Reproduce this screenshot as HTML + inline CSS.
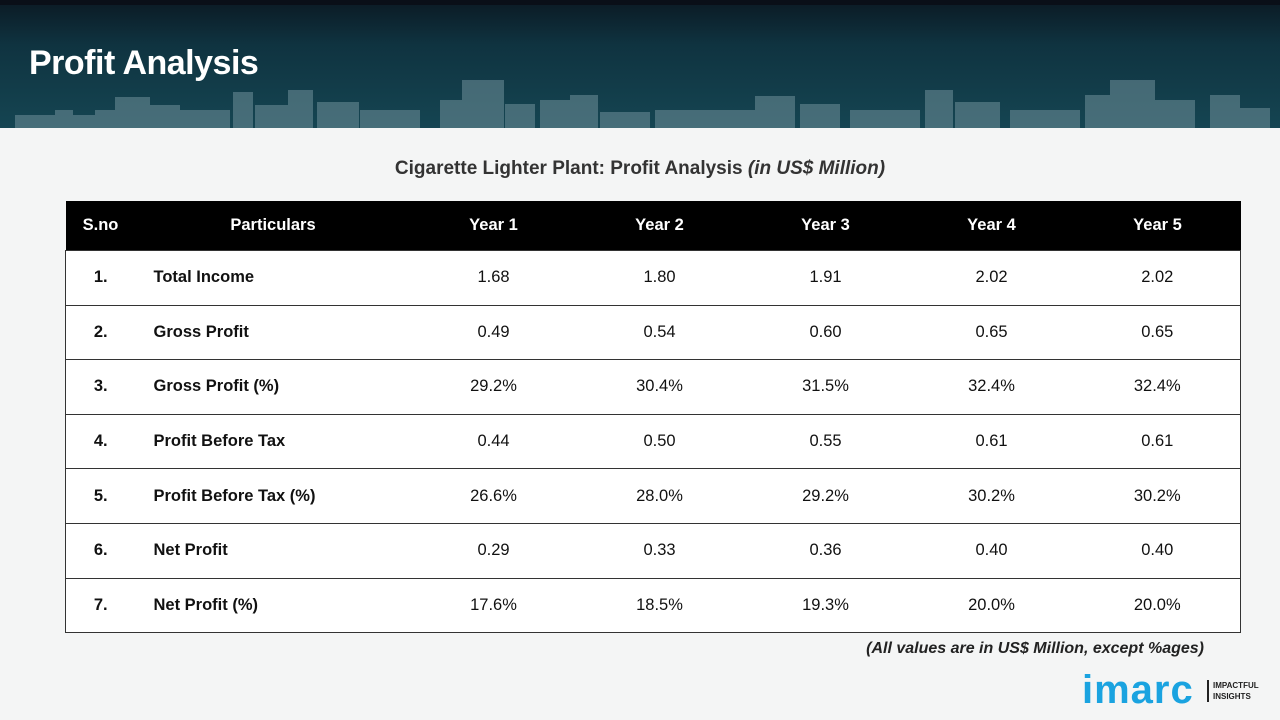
<!DOCTYPE html>
<html><head><meta charset="utf-8"><style>
body{margin:0;width:1280px;height:720px;overflow:hidden;background:#f4f5f5;font-family:"Liberation Sans",sans-serif;position:relative}
#hdr{position:absolute;left:0;top:0;width:1280px;height:128px;background:linear-gradient(180deg,#0b1a24 0%,#0f3340 35%,#154552 100%)}
#hdr .topbar{position:absolute;left:0;top:0;width:1280px;height:5px;background:#0a0f18}
#title{position:absolute;left:29px;top:44px;color:#fff;font-weight:bold;font-size:34px;letter-spacing:-0.5px}
#sub{position:absolute;left:0;width:1280px;top:158px;text-align:center;font-size:19px;font-weight:bold;color:#333}
table{position:absolute;left:65px;top:201px;width:1175px;border-collapse:collapse;table-layout:fixed;font-size:16.5px;color:#111}
th{background:#000;color:#fff;height:49px;padding:0;font-weight:bold;text-align:center}
td{height:53.6px;padding:0;border-top:1px solid #333;text-align:center;background:#fff}
tr:last-child td{border-bottom:1px solid #333}
td:first-child{border-left:1px solid #333;font-weight:bold}
td:last-child{border-right:1px solid #333}
td.p{text-align:left;padding-left:18px;font-weight:bold}
#note{position:absolute;right:76px;top:640px;font-size:16px;font-weight:bold;font-style:italic;color:#222}
#logo{position:absolute;left:1082px;top:670px;font-size:40px;font-weight:bold;color:#1aa3e0;letter-spacing:1px;line-height:40px}
#tag{position:absolute;left:1207px;top:680px;font-size:8px;font-weight:bold;color:#222;border-left:2px solid #222;padding-left:4px;line-height:11px}
</style></head><body>
<div id="hdr"><div class="topbar"></div>
<svg width="1280" height="128" style="position:absolute;left:0;top:0">
<g fill="#6f909a" opacity="0.55">
<rect x="15" y="115" width="80" height="13"/><rect x="55" y="110" width="18" height="18"/><rect x="95" y="110" width="25" height="18"/><rect x="115" y="97" width="35" height="31"/><rect x="150" y="105" width="30" height="23"/><rect x="180" y="110" width="50" height="18"/><rect x="233" y="92" width="20" height="36"/><rect x="255" y="105" width="40" height="23"/><rect x="288" y="90" width="25" height="38"/><rect x="317" y="102" width="42" height="26"/><rect x="360" y="110" width="60" height="18"/><rect x="440" y="100" width="30" height="28"/><rect x="462" y="80" width="42" height="48"/><rect x="505" y="104" width="30" height="24"/><rect x="540" y="100" width="30" height="28"/><rect x="570" y="95" width="28" height="33"/><rect x="600" y="112" width="50" height="16"/>
<rect x="655" y="110" width="100" height="18"/><rect x="755" y="96" width="40" height="32"/><rect x="800" y="104" width="40" height="24"/><rect x="850" y="110" width="70" height="18"/><rect x="925" y="90" width="28" height="38"/><rect x="955" y="102" width="45" height="26"/><rect x="1010" y="110" width="70" height="18"/><rect x="1085" y="95" width="25" height="33"/><rect x="1110" y="80" width="45" height="48"/><rect x="1155" y="100" width="40" height="28"/><rect x="1210" y="95" width="30" height="33"/><rect x="1240" y="108" width="30" height="20"/>
</g></svg>
<div id="title">Profit Analysis</div></div>
<div id="sub">Cigarette Lighter Plant: Profit Analysis <i>(in US$ Million)</i></div>
<table>
<colgroup><col style="width:70px"><col style="width:275px"><col style="width:166px"><col style="width:166px"><col style="width:166px"><col style="width:166px"><col style="width:166px"></colgroup>
<tr><th>S.no</th><th>Particulars</th><th>Year 1</th><th>Year 2</th><th>Year 3</th><th>Year 4</th><th>Year 5</th></tr>
<tr><td>1.</td><td class="p">Total Income</td><td>1.68</td><td>1.80</td><td>1.91</td><td>2.02</td><td>2.02</td></tr>
<tr><td>2.</td><td class="p">Gross Profit</td><td>0.49</td><td>0.54</td><td>0.60</td><td>0.65</td><td>0.65</td></tr>
<tr><td>3.</td><td class="p">Gross Profit (%)</td><td>29.2%</td><td>30.4%</td><td>31.5%</td><td>32.4%</td><td>32.4%</td></tr>
<tr><td>4.</td><td class="p">Profit Before Tax</td><td>0.44</td><td>0.50</td><td>0.55</td><td>0.61</td><td>0.61</td></tr>
<tr><td>5.</td><td class="p">Profit Before Tax (%)</td><td>26.6%</td><td>28.0%</td><td>29.2%</td><td>30.2%</td><td>30.2%</td></tr>
<tr><td>6.</td><td class="p">Net Profit</td><td>0.29</td><td>0.33</td><td>0.36</td><td>0.40</td><td>0.40</td></tr>
<tr><td>7.</td><td class="p">Net Profit (%)</td><td>17.6%</td><td>18.5%</td><td>19.3%</td><td>20.0%</td><td>20.0%</td></tr>
</table>
<div id="note">(All values are in US$ Million, except %ages)</div>
<div id="logo">imarc</div>
<div id="tag">IMPACTFUL<br>INSIGHTS</div>
</body></html>
